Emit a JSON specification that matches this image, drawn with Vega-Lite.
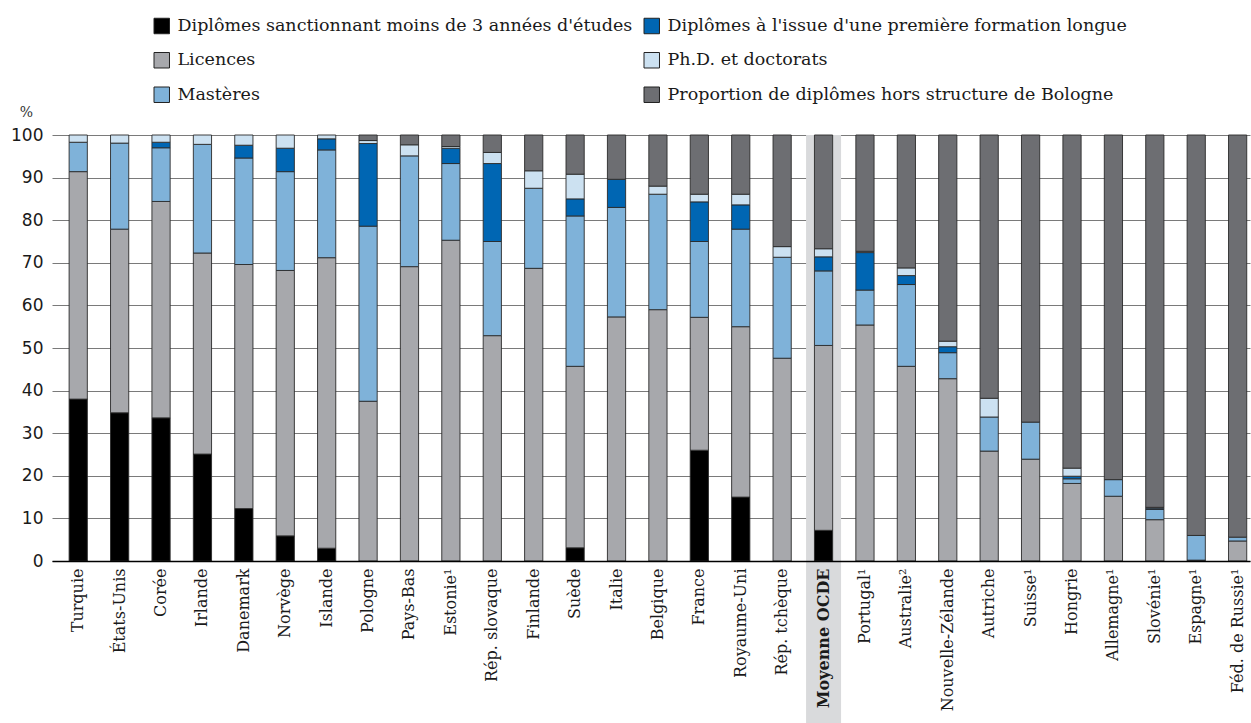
{
  "$schema": "https://vega.github.io/schema/vega-lite/v6.json",
  "autosize": "none",
  "width": 1198,
  "height": 426,
  "padding": {"left": 52, "top": 135, "right": 1, "bottom": 162},
  "background": "white",
  "config": {"view": {"stroke": null}},
  "data": {"values": [
    {"pays": "Turquie", "moins3": 38.0, "licences": 53.4, "masteres": 6.9, "longue": 0, "phd": 1.7, "hors": 0},
    {"pays": "États-Unis", "moins3": 34.8, "licences": 43.1, "masteres": 20.2, "longue": 0, "phd": 1.9, "hors": 0},
    {"pays": "Corée", "moins3": 33.6, "licences": 50.8, "masteres": 12.6, "longue": 1.3, "phd": 1.7, "hors": 0},
    {"pays": "Irlande", "moins3": 25.1, "licences": 47.2, "masteres": 25.5, "longue": 0, "phd": 2.2, "hors": 0},
    {"pays": "Danemark", "moins3": 12.3, "licences": 57.3, "masteres": 25.0, "longue": 3.0, "phd": 2.4, "hors": 0},
    {"pays": "Norvège", "moins3": 5.9, "licences": 62.3, "masteres": 23.2, "longue": 5.5, "phd": 3.1, "hors": 0},
    {"pays": "Islande", "moins3": 3.0, "licences": 68.2, "masteres": 25.3, "longue": 2.6, "phd": 0.9, "hors": 0},
    {"pays": "Pologne", "moins3": 0, "licences": 37.5, "masteres": 41.1, "longue": 19.4, "phd": 0.7, "hors": 1.3},
    {"pays": "Pays-Bas", "moins3": 0, "licences": 69.1, "masteres": 26.0, "longue": 0, "phd": 2.6, "hors": 2.3},
    {"pays": "Estonie¹", "moins3": 0, "licences": 75.3, "masteres": 18.0, "longue": 3.6, "phd": 0.4, "hors": 2.7},
    {"pays": "Rép. slovaque", "moins3": 0, "licences": 52.9, "masteres": 22.1, "longue": 18.3, "phd": 2.6, "hors": 4.1},
    {"pays": "Finlande", "moins3": 0, "licences": 68.7, "masteres": 18.8, "longue": 0, "phd": 4.1, "hors": 8.4},
    {"pays": "Suède", "moins3": 3.1, "licences": 42.6, "masteres": 35.3, "longue": 4.0, "phd": 5.8, "hors": 9.2},
    {"pays": "Italie", "moins3": 0, "licences": 57.3, "masteres": 25.7, "longue": 6.6, "phd": 0, "hors": 10.4},
    {"pays": "Belgique", "moins3": 0, "licences": 59.0, "masteres": 27.1, "longue": 0, "phd": 1.9, "hors": 12.0},
    {"pays": "France", "moins3": 26.0, "licences": 31.2, "masteres": 17.8, "longue": 9.3, "phd": 1.8, "hors": 13.9},
    {"pays": "Royaume-Uni", "moins3": 15.0, "licences": 40.0, "masteres": 22.9, "longue": 5.7, "phd": 2.5, "hors": 13.9},
    {"pays": "Rép. tchèque", "moins3": 0, "licences": 47.6, "masteres": 23.7, "longue": 0, "phd": 2.5, "hors": 26.2},
    {"pays": "Moyenne OCDE", "moins3": 7.2, "licences": 43.4, "masteres": 17.5, "longue": 3.3, "phd": 1.9, "hors": 26.7},
    {"pays": "Portugal¹", "moins3": 0, "licences": 55.4, "masteres": 8.2, "longue": 8.8, "phd": 0.3, "hors": 27.3},
    {"pays": "Australie²", "moins3": 0, "licences": 45.7, "masteres": 19.2, "longue": 2.1, "phd": 1.8, "hors": 31.2},
    {"pays": "Nouvelle-Zélande", "moins3": 0, "licences": 42.8, "masteres": 6.1, "longue": 1.4, "phd": 1.3, "hors": 48.4},
    {"pays": "Autriche", "moins3": 0, "licences": 25.8, "masteres": 8.0, "longue": 0, "phd": 4.4, "hors": 61.8},
    {"pays": "Suisse¹", "moins3": 0, "licences": 23.9, "masteres": 8.7, "longue": 0, "phd": 0, "hors": 67.4},
    {"pays": "Hongrie", "moins3": 0, "licences": 18.2, "masteres": 1.1, "longue": 0.6, "phd": 1.9, "hors": 78.2},
    {"pays": "Allemagne¹", "moins3": 0, "licences": 15.2, "masteres": 3.9, "longue": 0, "phd": 0, "hors": 80.9},
    {"pays": "Slovénie¹", "moins3": 0, "licences": 9.7, "masteres": 2.4, "longue": 0.3, "phd": 0.2, "hors": 87.4},
    {"pays": "Espagne¹", "moins3": 0.2, "licences": 0, "masteres": 5.8, "longue": 0, "phd": 0, "hors": 94.0},
    {"pays": "Féd. de Russie¹", "moins3": 0, "licences": 4.7, "masteres": 0.9, "longue": 0, "phd": 0, "hors": 94.4}
  ]},
  "encoding": {
    "x": {
      "field": "pays", "type": "nominal", "sort": null,
      "scale": {"paddingInner": 0.56, "paddingOuter": 0.246, "align": 0.84},
      "axis": {
        "title": null, "zindex": 1, "labelAngle": -90, "labelAlign": "right", "labelBaseline": "middle",
        "labelPadding": 7, "ticks": false, "domain": true, "domainColor": "#000000", "domainWidth": 1.5,
        "labelFont": "DejaVu Serif", "labelFontSize": 16, "labelColor": "#1a1a1a", "labelLimit": 300,
        "labelFontWeight": {"condition": {"test": "datum.value == 'Moyenne OCDE'", "value": "bold"}, "value": "normal"}
      }
    }
  },
  "layer": [
    {
      "mark": {"type": "bar", "color": "#d9dadc", "width": 35},
      "encoding": {
        "y": {"datum": 100, "type": "quantitative", "scale": {"domain": [0, 100], "nice": false}},
        "y2": {"datum": -38.5},
        "opacity": {"condition": {"test": "datum.pays == 'Moyenne OCDE'", "value": 1}, "value": 0}
      }
    },
    {
      "transform": [
        {"fold": ["moins3", "licences", "masteres", "longue", "phd", "hors"], "as": ["cat", "v"]},
        {"filter": "datum.v > 0"},
        {"calculate": "indexof(['moins3','licences','masteres','longue','phd','hors'], datum.cat)", "as": "rang"}
      ],
      "mark": {"type": "bar", "stroke": "#2a2a2a", "strokeWidth": 0.9},
      "encoding": {
        "y": {
          "field": "v", "type": "quantitative", "stack": "zero",
          "scale": {"domain": [0, 100], "nice": false},
          "axis": {
            "title": "%", "titleAngle": 0, "titleX": -26, "titleY": -23, "titleAlign": "center", "titleBaseline": "middle",
            "titleFont": "DejaVu Serif", "titleFontSize": 14, "titleFontWeight": "normal", "titleColor": "#333",
            "values": [0, 10, 20, 30, 40, 50, 60, 70, 80, 90, 100],
            "grid": true, "gridColor": "#7a7a7a", "gridWidth": 1, "domain": false, "ticks": false,
            "labelPadding": 9, "labelFont": "DejaVu Sans", "labelFontSize": 17, "labelColor": "#1a1a1a"
          }
        },
        "color": {
          "field": "cat", "type": "nominal",
          "scale": {
            "domain": ["moins3", "licences", "masteres", "longue", "phd", "hors"],
            "range": ["#000000", "#a7a8ac", "#7fb2d9", "#0066b3", "#cce1f1", "#6d6e72"]
          },
          "legend": {
            "orient": "none", "legendX": 101, "legendY": -118, "columns": 2, "title": null,
            "symbolType": "square", "symbolSize": 240, "symbolStrokeColor": "#222", "symbolStrokeWidth": 1,
            "labelFont": "DejaVu Serif", "labelFontSize": 17.5, "labelColor": "#1a1a1a", "labelLimit": 600,
            "labelOffset": 7, "rowPadding": 14.5, "columnPadding": 9,
            "labelExpr": "datum.label == 'moins3' ? \"Diplômes sanctionnant moins de 3 années d'études\" : datum.label == 'longue' ? \"Diplômes à l'issue d'une première formation longue\" : datum.label == 'licences' ? 'Licences' : datum.label == 'phd' ? 'Ph.D. et doctorats' : datum.label == 'masteres' ? 'Mastères' : 'Proportion de diplômes hors structure de Bologne'"
          }
        },
        "order": {"field": "rang", "type": "quantitative"}
      }
    }
  ]
}
